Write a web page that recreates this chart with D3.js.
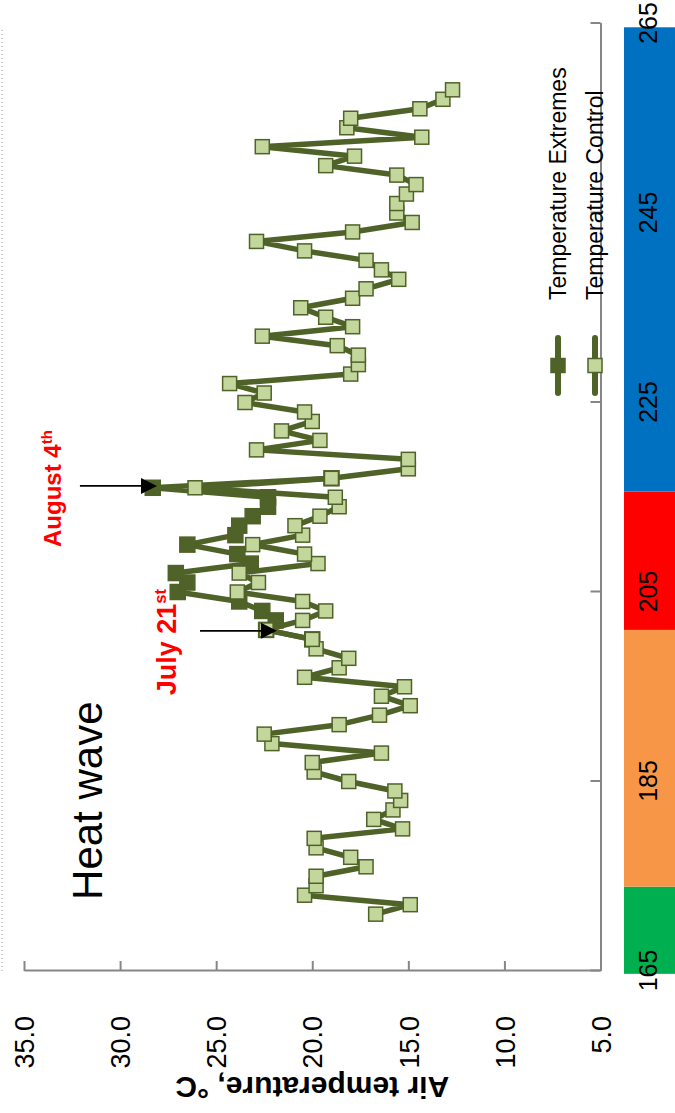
<!DOCTYPE html>
<html>
<head>
<meta charset="utf-8">
<script src="https://cdn.jsdelivr.net/npm/d3@7"></script>
<style>
body { margin: 0; background: #fff; }
svg { display: block; font-family: "Liberation Sans", Arial, sans-serif; }
</style>
</head>
<body>
<svg id="chart" width="675" height="1113"></svg>
<script>

// daily mean air temperature (deg C), day of year
var controlStart = 171;
var controlTemps = [
  16.7, 14.9, 20.4, 19.8, 19.8, 17.2, 18.0, 19.8, 19.9, 15.3,   // 171-180
  16.8, 15.8, 15.4, 15.7, 18.1, 19.9, 20.0, 16.4, 22.1, 22.5,   // 181-190
  18.6, 16.5, 14.9, 16.4, 15.2, 20.4, 18.6, 18.1, 19.8, 20.0,   // 191-200
  22.4, 20.5, 19.3, 20.5, 23.9, 22.8, 23.8, 19.7, 20.4, 23.1,   // 201-210
  20.5, 20.9, 19.6, 18.6, 18.8, 26.1, 19.0, 15.0, 15.0, 22.9,   // 211-220
  19.6, 21.6, 20.0, 20.4, 23.5, 22.5, 24.3, 18.0, 17.6, 17.6,   // 221-230
  18.7, 22.6, 17.9, 19.3, 20.6, 17.9, 17.2, 15.5, 16.4, 17.2,   // 231-240
  20.4, 22.9, 17.9, 14.8, 15.6, 15.6, 15.1, 14.6, 15.6, 19.3,   // 241-250
  17.8, 22.6, 14.3, 18.2, 18.0, 14.4, 13.2, 12.7                // 251-258
];

// heated plots only differ from control during the heat wave
var extremeStart = 200;
var extremeTemps = [
  20.0, 22.4, 21.9, 22.6, 23.8, 27.0, 26.5, 27.1, 23.2, 23.9,   // 200-209
  26.5, 24.0, 23.8, 23.1, 22.3, 22.3, 28.3, 19.0                // 210-217
];

var seriesNames = ["Temperature Extremes", "Temperature Control"];
var dayTicks = [165, 185, 205, 225, 245, 265];
var tempTicks = [5, 10, 15, 20, 25, 30, 35];

// coloured periods under the day axis (day of year boundaries)
var periodBreaks = [164.7, 173.9, 201, 215.6, 264.6];
var periodColors = ["#00b050", "#f79646", "#ff0000", "#0070c0"];

var W = 1113, H = 675;   // chart is laid out unrotated, then turned a quarter left

var svg = d3.select("#chart");
var g = svg.append("g")
    .attr("transform", "translate(0," + W + ") rotate(-90)");

var x = d3.scaleLinear().domain([165, 265]).range([142, 1089.5]),
    y = d3.scaleLinear().domain([5, 35]).range([600.5, 24]);

var olive = "#4f6228", lightGreen = "#c3d69b", axisGrey = "#868686";

// faint dotted frame edge
g.append("line")
    .attr("x1", x(165)).attr("x2", x(264.6))
    .attr("y1", 2).attr("y2", 2)
    .attr("stroke", "#9a9a9a")
    .attr("stroke-width", 1)
    .attr("stroke-dasharray", "1,3");

// period band
var periods = d3.pairs(periodBreaks).map(function(p, i) {
  return {from: p[0], to: p[1], color: periodColors[i]};
});
g.selectAll(".period")
    .data(periods)
  .enter().append("rect")
    .attr("class", "period")
    .attr("x", function(d) { return x(d.from); })
    .attr("width", function(d) { return x(d.to) - x(d.from); })
    .attr("y", 624)
    .attr("height", 60)
    .attr("fill", function(d) { return d.color; });

// axes
var xAxis = d3.axisBottom(x).tickValues(dayTicks)
    .tickSizeInner(-10).tickSizeOuter(0).tickPadding(0);
var gx = g.append("g")
    .attr("transform", "translate(0," + y(5) + ")")
    .call(xAxis)
    .attr("font-size", null).attr("font-family", null);
gx.select(".domain").attr("stroke", axisGrey).attr("stroke-width", 2);
gx.selectAll(".tick line").attr("stroke", axisGrey).attr("stroke-width", 2);
gx.selectAll(".tick text")
    .attr("y", 56).attr("dy", null)
    .attr("font-size", 25).attr("fill", "#000");

var yAxis = d3.axisLeft(y).tickValues(tempTicks)
    .tickSizeInner(-10).tickSizeOuter(0).tickPadding(45)
    .tickFormat(d3.format(".1f"));
var gy = g.append("g")
    .attr("transform", "translate(" + x(165) + ",0)")
    .call(yAxis)
    .attr("font-size", null).attr("font-family", null);
gy.select(".domain").attr("stroke", axisGrey).attr("stroke-width", 2);
gy.selectAll(".tick line").attr("stroke", axisGrey).attr("stroke-width", 2);
gy.selectAll(".tick text")
    .attr("dy", "0.36em")
    .attr("font-size", 27).attr("fill", "#000");

g.append("text")
    .attr("transform", "translate(36," + y(20) + ") rotate(-90)")
    .attr("text-anchor", "middle")
    .attr("font-size", 30)
    .attr("font-weight", "bold")
    .text("Air temperature, °C");

// legend
var legendY = [558, 595];
var legend = g.selectAll(".legend")
    .data(seriesNames)
  .enter().append("g")
    .attr("class", "legend")
    .attr("transform", function(d, i) { return "translate(720," + legendY[i] + ")"; });
legend.append("line")
    .attr("x1", 0).attr("x2", 55)
    .attr("stroke", olive).attr("stroke-width", 6)
    .attr("stroke-linecap", "round");
legend.append("rect")
    .attr("x", 20.5).attr("y", -7).attr("width", 14).attr("height", 14)
    .attr("fill", function(d, i) { return i == 0 ? olive : lightGreen; })
    .attr("stroke", olive).attr("stroke-width", 1.5);
legend.append("text")
    .attr("x", 93).attr("y", 8)
    .attr("font-size", 23)
    .text(function(d) { return d; });

// series
var control = controlTemps.map(function(t, i) { return {day: controlStart + i, t: t}; }),
    extremes = extremeTemps.map(function(t, i) { return {day: extremeStart + i, t: t}; });

var line = d3.line()
    .x(function(d) { return x(d.day); })
    .y(function(d) { return y(d.t); });

function drawSeries(data, fill, size) {
  g.append("path")
      .datum(data)
      .attr("d", line)
      .attr("fill", "none")
      .attr("stroke", olive)
      .attr("stroke-width", 5.5)
      .attr("stroke-linejoin", "round");
  g.append("g").selectAll("rect")
      .data(data)
    .enter().append("rect")
      .attr("x", function(d) { return x(d.day) - size / 2; })
      .attr("y", function(d) { return y(d.t) - size / 2; })
      .attr("width", size).attr("height", size)
      .attr("fill", fill)
      .attr("stroke", olive)
      .attr("stroke-width", 1.5);
}
drawSeries(extremes, olive, 15);
drawSeries(control, lightGreen, 14);

// annotations
g.append("text")
    .attr("x", x(172.5)).attr("y", y(30.95))
    .attr("font-size", 42)
    .text("Heat wave");

var notes = [
  {text: "July 21", sup: "st", day: 194.1, t: 27.1, size: 27},
  {text: "August 4", sup: "th", day: 209.75, t: 33.1, size: 24}
];
var note = g.selectAll(".note")
    .data(notes)
  .enter().append("text")
    .attr("class", "note")
    .attr("x", function(d) { return x(d.day); })
    .attr("y", function(d) { return y(d.t); })
    .attr("font-size", function(d) { return d.size; })
    .attr("font-weight", "bold")
    .attr("fill", "#ff0000")
    .text(function(d) { return d.text; });
note.append("tspan")
    .attr("dy", function(d) { return -d.size * 0.36; })
    .attr("font-size", function(d) { return d.size * 0.62; })
    .text(function(d) { return d.sup; });

// arrows: day, tail temperature, tip temperature
var arrows = [
  {day: 200.9, from: 25.84, to: 21.84},
  {day: 216.2, from: 32.09, to: 28.08}
];
arrows.forEach(function(a) {
  var ax = x(a.day), y0 = y(a.from), y1 = y(a.to);
  g.append("line")
      .attr("x1", ax).attr("x2", ax)
      .attr("y1", y0).attr("y2", y1 - 14)
      .attr("stroke", "#000").attr("stroke-width", 1.8);
  g.append("path")
      .attr("d", "M" + ax + "," + y1 + "L" + (ax - 8) + "," + (y1 - 16) + "L" + (ax + 8) + "," + (y1 - 16) + "Z")
      .attr("fill", "#000");
});

</script>
</body>
</html>
